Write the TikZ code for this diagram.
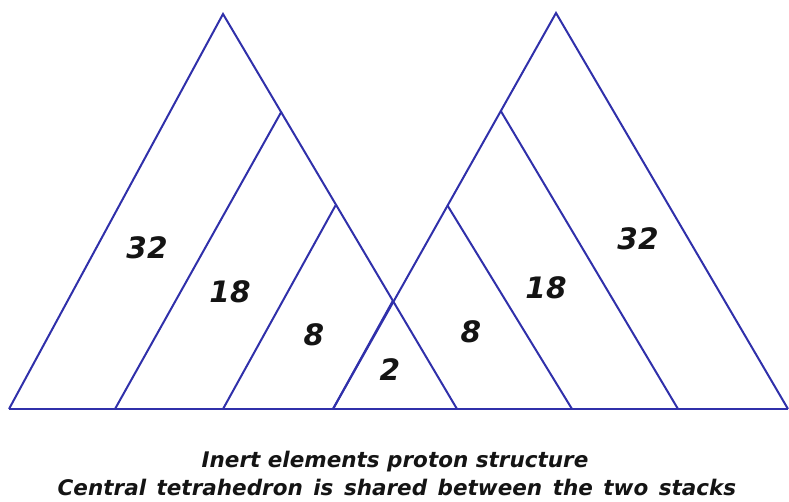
\documentclass[tikz,border=0pt]{standalone}
\usepackage{fontspec}
\setmainfont{DejaVu Sans}
\definecolor{edgeblue}{RGB}{48,48,170}
\definecolor{txt}{RGB}{20,20,20}
\begin{document}
\begin{tikzpicture}[x=1pt,y=-1pt,
  edge/.style={draw=edgeblue,line width=2pt,line join=miter},
  num/.style={font=\fontsize{29.5}{33}\selectfont\bfseries\itshape,text=txt,inner sep=0pt},
  captext/.style={font=\fontsize{21.5}{25}\selectfont\bfseries\itshape,text=txt,inner sep=0pt,align=center}]
\useasboundingbox (0,0) rectangle (789,501);
% vertices
\coordinate (BL) at (9,409);
\coordinate (B1) at (115,409);
\coordinate (B2) at (223,409);
\coordinate (B3) at (333,409);
\coordinate (B4) at (457,409);
\coordinate (B5) at (572,409);
\coordinate (B6) at (678,409);
\coordinate (BR) at (788,409);
\coordinate (AL) at (223,14);
\coordinate (AR) at (556,13);
\coordinate (L1) at (281.5,111.5);
\coordinate (L2) at (335.5,205.5);
\coordinate (X)  at (393,300.5);
\coordinate (R1) at (500.5,110.5);
\coordinate (R2) at (447.5,205.5);
% base
\draw[edge] (BL) -- (BR);
% left stack
\draw[edge] (BL) -- (AL) -- (B4);
\draw[edge] (B1) -- (L1);
\draw[edge] (B2) -- (L2);
\draw[edge] (B3) -- (X);
% right stack
\draw[edge] (B3) -- (AR) -- (BR);
\draw[edge] (R1) -- (B6);
\draw[edge] (R2) -- (B5);
% labels
\node[num] (n32l) at (147,248) {32};
\node[num] (n18l) at (230,292) {18};
\node[num] (n8l)  at (314,335) {8};
\node[num] (n2)   at (390,370) {2};
\node[num] (n8r)  at (471,332) {8};
\node[num] (n18r) at (546,288) {18};
\node[num] (n32r) at (638,239) {32};
\node[captext] (c1) at (395,462) {Inert elements proton structure};
\node[captext] (c2) at (397,487) {\spaceskip=10.5pt\relax Central tetrahedron is shared between the two stacks};
\end{tikzpicture}
\end{document}
